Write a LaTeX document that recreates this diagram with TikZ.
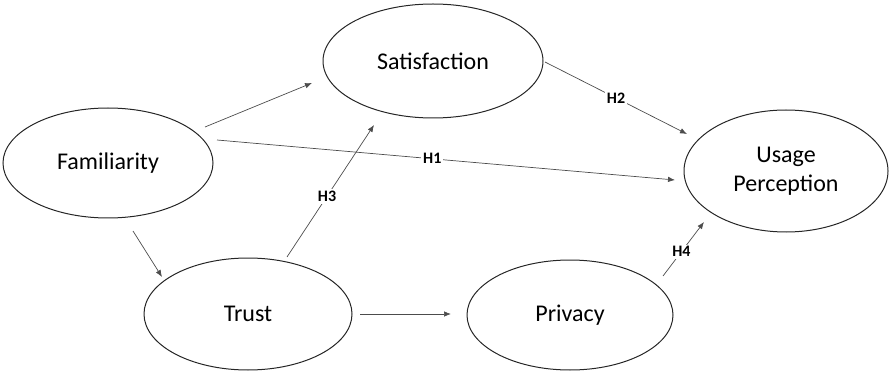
\documentclass[tikz,border=0pt]{standalone}
\usepackage{fontspec}
\setmainfont{Carlito}
\usetikzlibrary{shapes.geometric,arrows.meta}
\begin{document}
\begin{tikzpicture}[x=1pt,y=-1pt,
  construct/.style={ellipse,draw=black!85,line width=1pt,inner sep=0pt,font=\fontsize{24}{29}\selectfont,align=center},
  link/.style={draw=black!70,line width=0.7pt,-{Latex[length=7pt,width=5.5pt]}},
  hlabel/.style={fill=white,inner sep=2pt,font=\fontsize{16}{18}\selectfont\bfseries}]
\useasboundingbox (0,0) rectangle (893,371);
\node[construct,minimum width=220pt,minimum height=114pt] (sat) at (433,61) {Satisfaction};
\node[construct,minimum width=210pt,minimum height=110pt] (fam) at (108,163) {Familiarity};
\node[construct,minimum width=204pt,minimum height=122pt] (use) at (786,171) {Usage\\Perception};
\node[construct,minimum width=208pt,minimum height=112pt] (tru) at (248,314) {Trust};
\node[construct,minimum width=206pt,minimum height=110pt] (pri) at (570,315) {Privacy};
% connector end points
\coordinate (famA) at (205,127);
\coordinate (satA) at (312,83);
\coordinate (famB) at (217,140);
\coordinate (useB) at (675,180);
\coordinate (truA) at (287,257);
\coordinate (satB) at (374,125);
\coordinate (satC) at (545,62);
\coordinate (useC) at (687,134);
\coordinate (famC) at (133,231);
\coordinate (truB) at (162,277);
\coordinate (truC) at (360,314);
\coordinate (priA) at (451,314);
\coordinate (priB) at (663,276);
\coordinate (useD) at (704,222);
\draw[link] (famA) -- (satA);
\draw[link] (famB) -- node[hlabel,pos=0.47] {H1} (useB);
\draw[link] (truA) -- node[hlabel,pos=0.46] {H3} (satB);
\draw[link] (satC) -- node[hlabel,pos=0.5] {H2} (useC);
\draw[link] (famC) -- (truB);
\draw[link] (truC) -- (priA);
\draw[link] (priB) -- node[hlabel,pos=0.45] {H4} (useD);
\end{tikzpicture}
\end{document}
